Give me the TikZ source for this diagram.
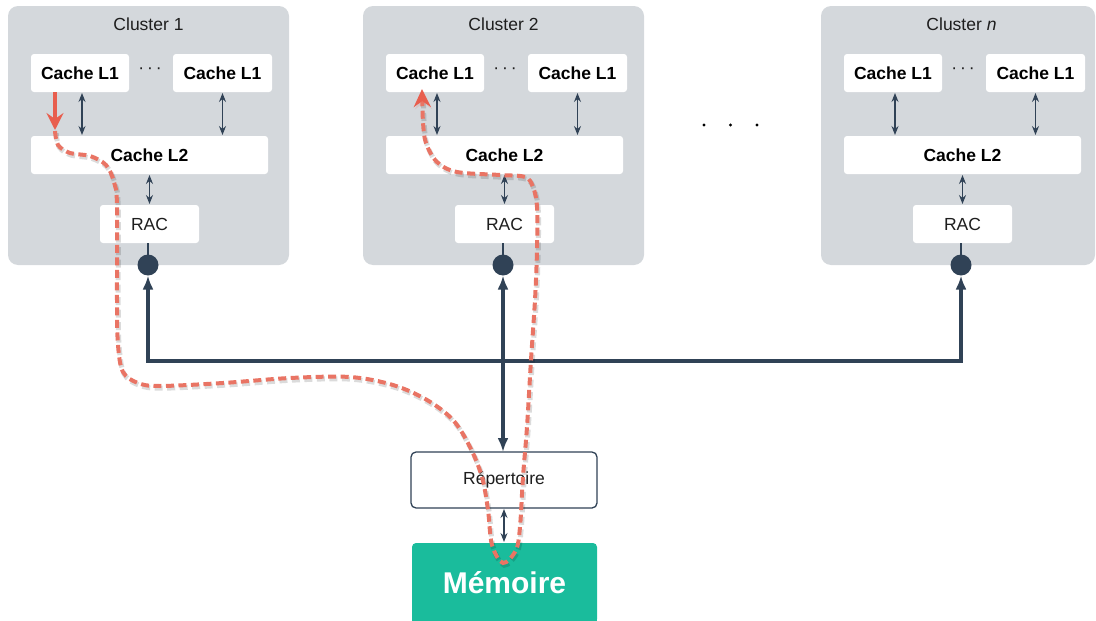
\documentclass[tikz,border=0pt]{standalone}
\usepackage{fontspec}
\setmainfont{Liberation Sans}
\usetikzlibrary{arrows.meta}
\definecolor{clbg}{RGB}{212,216,220}
\definecolor{navy}{RGB}{48,66,86}
\definecolor{salmon}{RGB}{233,116,100}
\definecolor{redtip}{RGB}{232,94,78}
\definecolor{memgreen}{RGB}{26,188,156}
\definecolor{txt}{RGB}{30,30,30}
\tikzset{
  clusterbg/.style={fill=clbg, rounded corners=10pt},
  wbox/.style={fill=white, rounded corners=3pt, inner sep=0pt, outer sep=0pt, minimum height=38pt},
  boldlbl/.style={font=\fontsize{17.5}{20}\selectfont\bfseries, text=black},
  reglbl/.style={font=\fontsize{17.5}{20}\selectfont, text=txt},
  thintip/.tip={Stealth[length=9pt,width=7pt,inset=3pt]},
  thinarrow/.style={draw=navy, line width=1.2pt, shorten <=1pt, shorten >=1pt, thintip-thintip},
  bus/.style={draw=navy, line width=3.2pt},
  bustip/.tip={Latex[length=14pt,width=11pt]},
  dotnode/.style={circle, fill=navy, minimum size=21pt, inner sep=0pt, outer sep=0pt},
  ellip/.style={circle, fill=black, minimum size=3.4pt, inner sep=0pt},
  redline/.style={draw=salmon, line width=4pt},
  reddash/.style={dash pattern=on 8pt off 4.5pt, line cap=butt},
  redshadow/.style={preaction={draw=black, opacity=0.14, line width=5pt, reddash,
    transform canvas={xshift=1.2pt,yshift=-2.2pt}}}
}
\newcommand\drawcluster[4]{%
\begin{scope}[xshift=#1pt]
  \fill[clusterbg] (8,6) rectangle (#4,265);
  \node[reglbl] (#2-title) at (148.5,24) {#3};
  \node[wbox,boldlbl,minimum width=98pt] (#2-l1a) at (80,73) {Cache L1};
  \node[wbox,boldlbl,minimum width=99pt] (#2-l1b) at (222.5,73) {Cache L1};
  \node[reglbl] (#2-dots) at (150,71) {·\hspace{3pt}·\hspace{3pt}·};
  \node[wbox,boldlbl,minimum width=237pt] (#2-l2) at (149.5,155) {Cache L2};
  \node[wbox,reglbl,minimum width=99pt] (#2-rac) at (149.5,224) {RAC};
  \node[dotnode] (#2-dot) at (148,265) {};
  \draw[thinarrow] ([xshift=2pt]#2-l1a.south) -- ([xshift=2pt]#2-l1a.south |- #2-l2.north);
  \draw[thinarrow] (#2-l1b.south) -- (#2-l1b.south |- #2-l2.north);
  \draw[thinarrow] (#2-l2.south -| #2-rac.north) -- (#2-rac.north);
  \draw[navy, line width=1.3pt] (#2-rac.south -| #2-dot.north) -- (#2-dot.north);
\end{scope}}
\begin{document}
\begin{tikzpicture}[x=1pt,y=-1pt]
  \useasboundingbox (0,0) rectangle (1096,621);
  \clip (0,0) rectangle (1096,621);
  \drawcluster{0}{c1}{Cluster 1}{289}
  \drawcluster{355}{c2}{Cluster 2}{289}
  \drawcluster{813}{cn}{Cluster \textit{n}}{282}
  % ellipsis between clusters
  \node[ellip] (e1) at (704,125) {};
  \node[ellip] (e2) at (730.5,125) {};
  \node[ellip] (e3) at (757,125) {};
  % directory and memory
  \node[draw=navy, line width=1.3pt, fill=white, rounded corners=5pt, minimum width=186pt,
        minimum height=56pt, inner sep=0pt, outer sep=0pt, reglbl] (rep) at (504,480) {Répertoire};
  \fill[memgreen] (412,600) rectangle (597,621);
  \node[fill=memgreen, rounded corners=4pt, minimum width=185pt, minimum height=80pt,
        inner sep=0pt, outer sep=0pt, font=\fontsize{30}{34}\selectfont\bfseries, text=white]
        (mem) at (504.5,583) {Mémoire};
  \draw[thinarrow] (rep.south) -- (rep.south |- mem.north);
  % bus
  \coordinate (busy) at (500,361);
  \draw[bus, bustip-bustip] (c1-dot.south) |- (busy) -| (cn-dot.south);
  \draw[bus, bustip-bustip] (c2-dot.south) -- (c2-dot.south |- rep.north);
  % red path
  \coordinate (rstart) at ([xshift=-25pt]c1-l1a.south);
  \draw[redline, draw=redtip, line width=3.4pt, -{Stealth[length=17pt,width=17pt,inset=6pt]}] (rstart) -- ++(0,38);
  \draw[redline, redshadow, reddash,
        -{Stealth[length=18pt,width=17pt,inset=6pt,fill=redtip,color=redtip]}]
    plot[smooth, tension=0.55] coordinates {
      (55,131) (58,145) (70,153) (90,156) (106,165) (114,182) (117,205) (117,300) (118,345)
      (123,372) (138,383) (160,386) (223,383) (290,378) (350,377) (393,385) (427,400)
      (453,420) (470,447) (482,477) (488,510) (492,545) (503,563) (516,550) (520,527)
      (523,477) (527,427) (531,360) (535,300) (537,250) (537,207) (533,187) (525,177)
      (500,175) (457,172) (437,162) (426,143) (423,122) (422,89)};
\end{tikzpicture}
\end{document}
